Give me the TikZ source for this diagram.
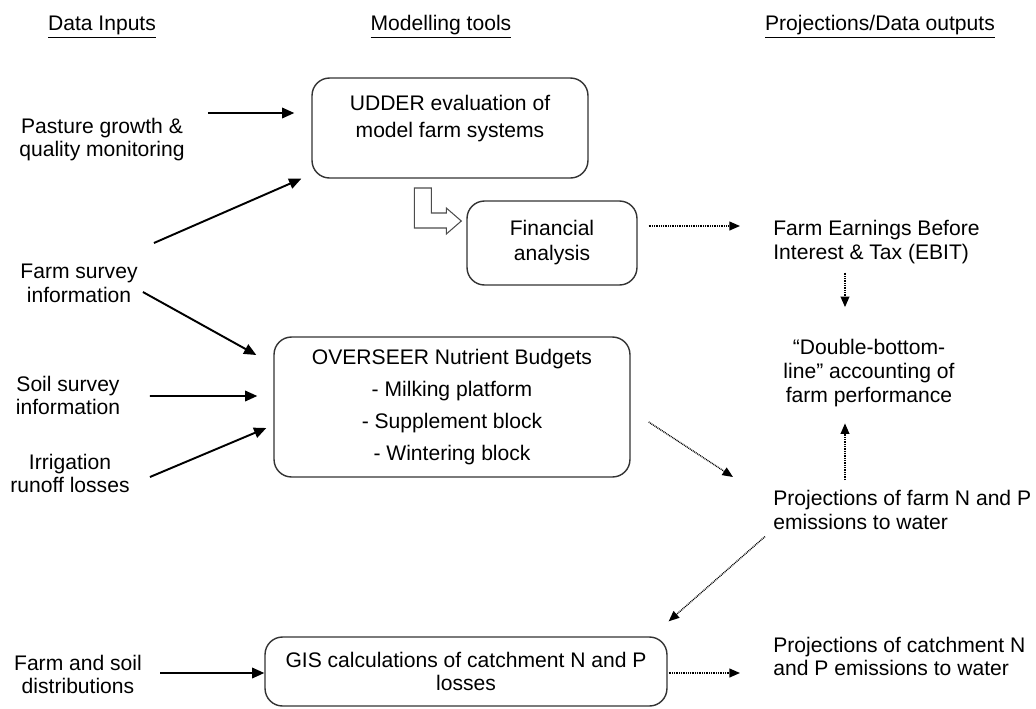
\documentclass[tikz,border=0pt]{standalone}
\usepackage{fontspec}
\setmainfont{Liberation Sans}
\usetikzlibrary{arrows.meta}

\tikzset{
  solidarr/.style={draw,line width=1.1pt,-{Triangle[length=7pt,width=6pt]}},
  dotarr/.style={draw,line width=0.8pt,dash pattern=on 0.5pt off 0.5pt,-{Triangle[length=6pt,width=5pt]}},
  elbow/.style={draw=black!70,fill=white,line width=0.6pt}
}

\begin{document}
\begin{tikzpicture}[x=0.02cm,y=-0.02cm,font=\fontsize{12}{13.5}\selectfont]

        \useasboundingbox (0,0) rectangle (1036,708);

        % headings and plain labels
        \begin{scope}[every node/.style={inner sep=0,align=center}]
          \node (in)      at (102,27)    {\underline{Data Inputs}};
          \node (tools)   at (441,27)    {\underline{Modelling tools}};
          \node (out)     at (880,27)    {\underline{Projections/Data outputs}};

          \node (pasture) at (102,139.5) {Pasture growth \&\\quality monitoring};
          \node (farm)    at (79,283.5)  {Farm survey\\information};
          \node (soil)    at (68,395.5)  {Soil survey\\information};
          \node (irrig)   at (70,473.5)  {Irrigation\\runoff losses};
          \node (dist)    at (78,674.5)  {Farm and soil\\distributions};

          \node[anchor=west,align=left] (ebit)   at (773,242)   {Farm Earnings Before\\Interest \& Tax (EBIT)};
          \node (dbl)                            at (869,373)   {“Double-bottom-\\line” accounting of\\farm performance};
          \node[anchor=west,align=left] (farmnp) at (773,510)   {Projections of farm N and P\\emissions to water};
          \node[anchor=west,align=left] (catch)  at (773,656.5) {Projections of catchment N\\and P emissions to water};
        \end{scope}

        % model boxes
        \begin{scope}[every node/.style={draw=black!80,line width=0.8pt,rounded corners=0.35cm,align=center,inner sep=0}]
          \node[minimum width=5.52cm,minimum height=2cm,font=\fontsize{12}{15.3}\selectfont] (udder) at (450,128)
            {UDDER evaluation of\\model farm systems\\[-2pt]\mbox{}};
          \node[minimum width=3.4cm,minimum height=1.68cm,font=\fontsize{12}{14.2}\selectfont] (finance) at (552,243)
            {Financial\\analysis};
          \node[minimum width=7.12cm,minimum height=2.8cm,font=\fontsize{12}{18.1}\selectfont] (overseer) at (452,407)
            {OVERSEER Nutrient Budgets\\- Milking platform\\- Supplement block\\- Wintering block};
          \node[minimum width=8.04cm,minimum height=1.38cm] (gis) at (466,671.5)
            {GIS calculations of catchment N and P\\losses};
        \end{scope}

        % hollow elbow from UDDER down into the financial box
        \begin{scope}[shift={(finance.west)}]
          \draw[elbow] (-52,-55) -- (-35,-55) -- (-35,-30) -- (-20,-30) -- (-20,-35)
            -- (-5,-22) -- (-20,-9) -- (-20,-15) -- (-52,-15) -- cycle;
        \end{scope}

        % inputs into the models
        \path ([shift={(23,-26.5)}]pasture.east) edge[solidarr] ([shift={(-17,-15)}]udder.west);
        \path ([shift={(16,-40.5)}]farm.east)    edge[solidarr] ([shift={(-10,0)}]udder.south west);
        \path ([shift={(5,8.5)}]farm.east)       edge[solidarr] ([shift={(-17,-52)}]overseer.west);
        \path ([shift={(29.5,0.5)}]soil.east)    edge[solidarr] ([shift={(-16,-11)}]overseer.west);
        \path ([shift={(20,3.5)}]irrig.east)     edge[solidarr] ([shift={(-7,21)}]overseer.west);
        \path ([shift={(18,-1.5)}]dist.east)     edge[solidarr] ([shift={(0,1.5)}]gis.west);

        % model outputs
        \path ([shift={(11,-17)}]finance.east)    edge[dotarr] ([shift={(-33,-16)}]ebit.west);
        \path ([shift={(72,8.5)}]ebit.south west) edge[dotarr] ([shift={(-24,-32)}]dbl.north);
        \path ([shift={(72,-10)}]farmnp.north west) edge[dotarr] ([shift={(-24,16.5)}]dbl.south);
        \path ([shift={(18,15)}]overseer.east)    edge[dotarr] ([shift={(-40,-33)}]farmnp.west);
        \path ([shift={(-8,6.6)}]farmnp.south west) edge[dotarr] ([shift={(1,-15)}]gis.north east);
        \path ([shift={(1,1.5)}]gis.east)         edge[dotarr] ([shift={(-33,16.5)}]catch.west);

      \end{tikzpicture}
\end{document}
